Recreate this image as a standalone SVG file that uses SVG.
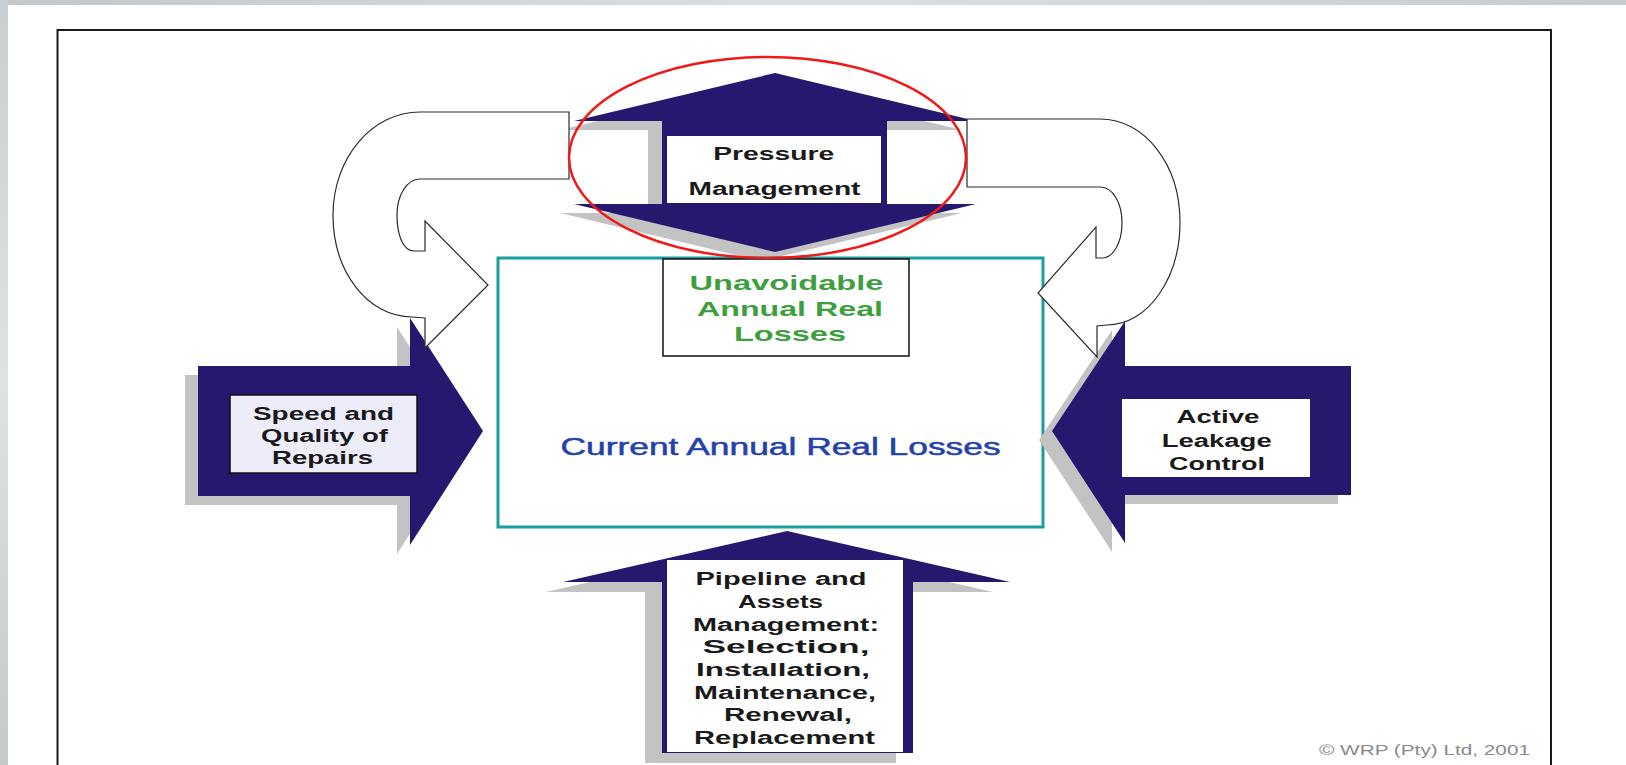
<svg xmlns="http://www.w3.org/2000/svg" xmlns:xlink="http://www.w3.org/1999/xlink" width="1626" height="765" viewBox="0 0 1626 765">
<style>
  .navy{fill:#26186e}
  .shadow{fill:#c3c3c3}
  .t{font-family:"Liberation Sans",Arial,Helvetica,sans-serif;text-anchor:middle}
  .lbl{font-weight:bold;fill:#1a1a1a;font-size:17.5px}
  .curve{fill:#ffffff;stroke:#2a2a2a;stroke-width:1.2;stroke-linejoin:miter}
</style>
<defs>
  <linearGradient id="texV" x1="0" y1="0" x2="0" y2="1">
    <stop offset="0" stop-color="#c9ced3"/>
    <stop offset="0.5" stop-color="#dfe2e5"/>
    <stop offset="1" stop-color="#c4c9ce"/>
  </linearGradient>
  <linearGradient id="texH" x1="0" y1="0" x2="1" y2="0">
    <stop offset="0" stop-color="#c2c7cc"/>
    <stop offset="0.5" stop-color="#dde0e3"/>
    <stop offset="1" stop-color="#c6cbd0"/>
  </linearGradient>
  <path id="pmShape" d="M775,73 L976,121 L887,121 L887,204 L976,204 L775,252 L574,204 L662,204 L662,121 L574,121 Z"/>
  <path id="lqShape" d="M198,366 L410,366 L410,318 L483,431 L410,545 L410,496 L198,496 Z"/>
  <path id="alShape" d="M1351,366 L1125,366 L1125,321 L1052,431 L1125,543 L1125,495 L1351,495 Z"/>
  <path id="paShape" d="M787,531 L1010,582 L913,582 L913,753 L662,753 L662,582 L563,582 Z"/>
</defs>

<g id="background">
  <rect x="0" y="0" width="1626" height="765" fill="#ffffff"/>
  <rect x="0" y="0" width="1626" height="5" fill="url(#texH)"/>
  <rect x="0" y="0" width="8" height="765" fill="url(#texV)"/>
  <path d="M57.5,770 V30 H1551 V770" fill="none" stroke="#1a1a1a" stroke-width="2"/>
</g>

<g id="pressure-management">
  <use xlink:href="#pmShape" class="shadow" transform="translate(-14,9)"/>
  <use xlink:href="#pmShape" class="navy"/>
  <rect x="667" y="136" width="214" height="67" fill="#ffffff"/>
  <text class="t lbl" x="773.7" y="160" textLength="121" lengthAdjust="spacingAndGlyphs">Pressure</text>
  <text class="t lbl" x="774.5" y="195" textLength="172" lengthAdjust="spacingAndGlyphs">Management</text>
</g>

<g id="current-annual-real-losses">
  <rect x="498" y="258" width="545" height="269" fill="#ffffff" stroke="#1a9e9c" stroke-width="3"/>
  <text class="t" x="780.6" y="455" font-size="23" fill="#2442a8" stroke="#2442a8" stroke-width="0.5" textLength="440" lengthAdjust="spacingAndGlyphs">Current Annual Real Losses</text>
</g>

<g id="unavoidable-annual-real-losses">
  <rect x="663" y="259" width="246" height="97" fill="#ffffff" stroke="#111111" stroke-width="1.5"/>
  <text class="t" x="786.5" y="290" font-size="21" font-weight="bold" fill="#3d9f3d" textLength="194" lengthAdjust="spacingAndGlyphs">Unavoidable</text>
  <text class="t" x="790" y="315.5" font-size="21" font-weight="bold" fill="#3d9f3d" textLength="186" lengthAdjust="spacingAndGlyphs">Annual Real</text>
  <text class="t" x="790" y="341" font-size="21" font-weight="bold" fill="#3d9f3d" textLength="112" lengthAdjust="spacingAndGlyphs">Losses</text>
</g>

<g id="speed-quality-repairs">
  <use xlink:href="#lqShape" class="shadow" transform="translate(-13,9)"/>
  <use xlink:href="#lqShape" class="navy"/>
  <rect x="230" y="395" width="187" height="78" fill="#ededfa" stroke="#111111" stroke-width="1.5"/>
  <text class="t lbl" x="323.5" y="420" textLength="141" lengthAdjust="spacingAndGlyphs">Speed and</text>
  <text class="t lbl" x="324.5" y="442" textLength="127" lengthAdjust="spacingAndGlyphs">Quality of</text>
  <text class="t lbl" x="322.5" y="464" textLength="101" lengthAdjust="spacingAndGlyphs">Repairs</text>
</g>

<g id="active-leakage-control">
  <use xlink:href="#alShape" class="shadow" transform="translate(-13,9)"/>
  <use xlink:href="#alShape" class="navy"/>
  <rect x="1122" y="399" width="188" height="78" fill="#ffffff"/>
  <text class="t lbl" x="1218" y="423" textLength="83" lengthAdjust="spacingAndGlyphs">Active</text>
  <text class="t lbl" x="1216.7" y="446.5" textLength="110" lengthAdjust="spacingAndGlyphs">Leakage</text>
  <text class="t lbl" x="1217" y="469.5" textLength="96" lengthAdjust="spacingAndGlyphs">Control</text>
</g>

<g id="pipeline-assets-management">
  <use xlink:href="#paShape" class="shadow" transform="translate(-17,10)"/>
  <use xlink:href="#paShape" class="navy"/>
  <rect x="667" y="560" width="236" height="192" fill="#ffffff"/>
  <text class="t lbl" x="781" y="585" textLength="171" lengthAdjust="spacingAndGlyphs">Pipeline and</text>
  <text class="t lbl" x="780.5" y="608" textLength="85" lengthAdjust="spacingAndGlyphs">Assets</text>
  <text class="t lbl" x="786" y="631" textLength="186" lengthAdjust="spacingAndGlyphs">Management:</text>
  <text class="t lbl" x="786" y="653" textLength="167" lengthAdjust="spacingAndGlyphs">Selection,</text>
  <text class="t lbl" x="783" y="676" textLength="174" lengthAdjust="spacingAndGlyphs">Installation,</text>
  <text class="t lbl" x="785" y="699" textLength="182" lengthAdjust="spacingAndGlyphs">Maintenance,</text>
  <text class="t lbl" x="788" y="721" textLength="128" lengthAdjust="spacingAndGlyphs">Renewal,</text>
  <text class="t lbl" x="784.5" y="744" textLength="181" lengthAdjust="spacingAndGlyphs">Replacement</text>
</g>

<g id="connectors">
  <path class="curve" d="M569,112 L420,112 C372,112 333,158 333,215 C333,272 368,317 412,317 L425,318 L425,348 L488,285 L425,221 L425,251 L414,251 C403,251 397,235 397,215 C397,195 407,179 420,179 L569,179 Z"/>
  <path class="curve" d="M967,119 L1100,119 C1145,119 1180,165 1180,222 C1180,278 1148,325 1107,325 L1097,326 L1097,357 L1038,293 L1096,227 L1096,258 L1102,258 C1113,258 1122,243 1122,223 C1122,203 1113,187 1100,187 L967,187 Z"/>
</g>

<g id="highlight">
  <ellipse cx="767.5" cy="157.5" rx="198.5" ry="100.5" fill="none" stroke="#f01818" stroke-width="2.5"/>
</g>

<g id="copyright">
  <text class="t" x="1424.5" y="755" font-size="14" fill="#8a8a8a" textLength="211" lengthAdjust="spacingAndGlyphs">© WRP (Pty) Ltd, 2001</text>
</g>
</svg>
